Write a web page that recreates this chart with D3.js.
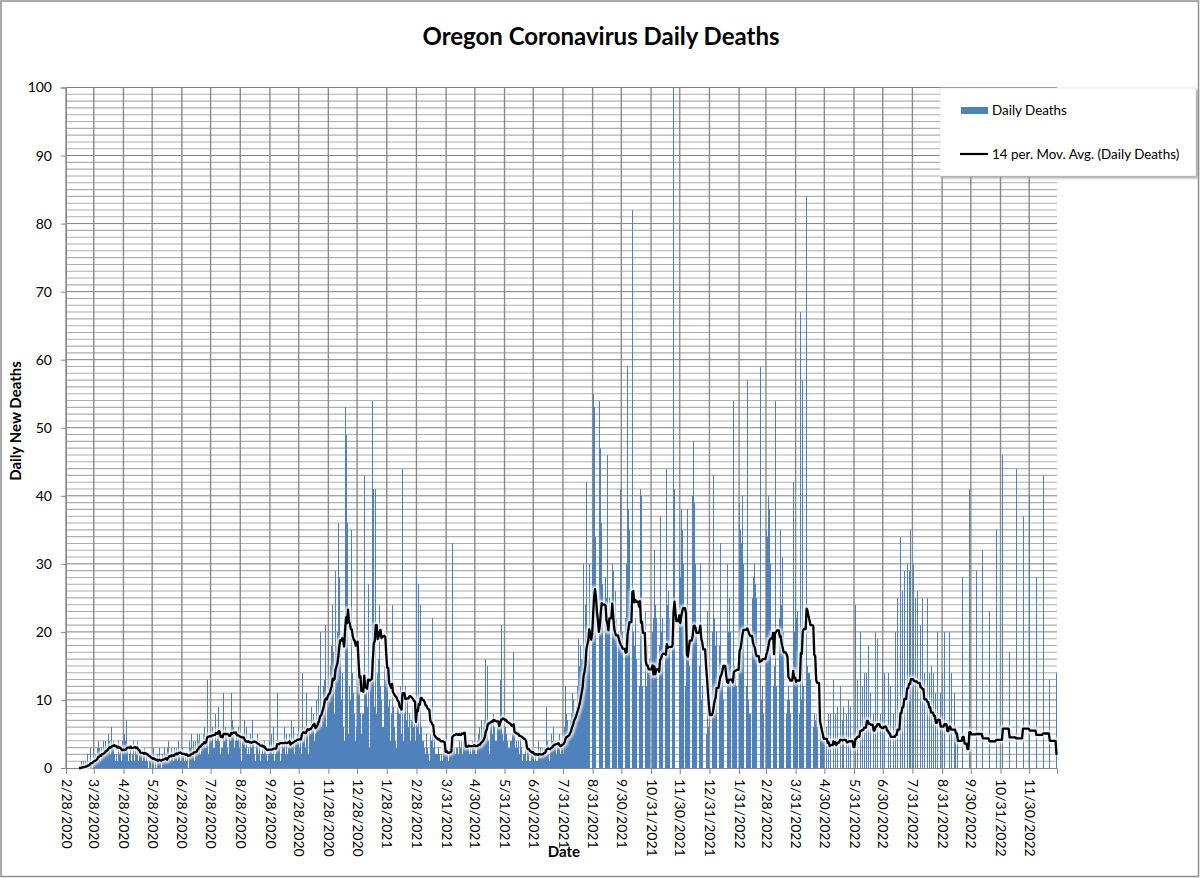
<!DOCTYPE html>
<html>
<head>
<meta charset="utf-8">
<script src="https://cdn.jsdelivr.net/npm/d3@7"></script>
<style>
body { margin: 0; background: #fff; }
text { font-family: Lato, "Liberation Sans", sans-serif; fill: #000; }
</style>
</head>
<body>
<div class="graph"></div>
<script>
// Chart text
var chartTitle = "Oregon Coronavirus Daily Deaths";
var yTitle = "Daily New Deaths";
var xTitle = "Date";
var seriesNames = ["Daily Deaths", "14 per. Mov. Avg. (Daily Deaths)"];

// Date axis labels (one gridline each)
var tickLabels = ["2/28/2020","3/28/2020","4/28/2020","5/28/2020","6/28/2020","7/28/2020",
  "8/28/2020","9/28/2020","10/28/2020","11/28/2020","12/28/2020","1/28/2021","2/28/2021",
  "3/31/2021","4/30/2021","5/31/2021","6/30/2021","7/31/2021","8/31/2021","9/30/2021",
  "10/31/2021","11/30/2021","12/31/2021","1/31/2022","2/28/2022","3/31/2022","4/30/2022",
  "5/31/2022","6/30/2022","7/31/2022","8/31/2022","9/30/2022","10/31/2022","11/30/2022"];
var yTicks = [0,10,20,30,40,50,60,70,80,90,100];

// Daily deaths, first value is 2/28/2020
var startDate = "2/28/2020";
var deaths2020 = [
  0,0,0,0,0,0,0, 0,0,0,0,0,0,0, 0,0,   // 2/28
  1,0,1,0,1,0,2,          // 3/15
  0,1,3,1,0,3,1,          // 3/22
  2,1,3,4,2,3,1,          // 3/29
  3,2,4,2,4,3,3,          // 4/5
  5,4,2,6,3,4,2,          // 4/12
  1,2,1,4,2,3,1,          // 4/19
  2,4,3,5,4,7,3,          // 4/26
  1,2,3,1,2,4,1,          // 5/3
  3,2,4,1,3,2,2,          // 5/10
  1,2,1,3,1,2,1,          // 5/17
  0,1,2,0,1,3,0,          // 5/24
  1,0,2,1,3,1,0,          // 5/31
  2,1,3,1,2,0,3,          // 6/7
  4,2,1,3,2,1,3,          // 6/14
  2,3,1,4,2,1,1,          // 6/21
  3,2,1,2,1,2,0,          // 6/28
  2,4,3,5,2,4,1,          // 7/5
  4,3,5,4,5,2,3,          // 7/12
  4,5,6,3,5,13,2,         // 7/19
  5,4,4,6,5,3,3,          // 7/26
  8,4,5,9,4,2,3,          // 8/2
  3,11,4,6,5,3,2,         // 8/9
  5,4,11,7,6,3,2,         // 8/16
  4,5,4,6,3,2,1,          // 8/23
  5,4,7,3,6,2,3,          // 8/30
  2,5,3,7,4,2,1,          // 9/6
  4,3,5,2,4,1,2,          // 9/13
  3,2,4,3,2,1,2,          // 9/20
  4,3,5,2,6,1,2,          // 9/27
  3,11,4,3,4,1,2,         // 10/4
  4,3,6,2,5,2,3,          // 10/11
  5,4,7,3,6,2,4,          // 10/18
  4,5,6,3,5,2,14,         // 10/25
  8,4,6,3,11,5,2,         // 11/1
  6,5,9,6,8,4,5,          // 11/8
  10,7,12,8,20,6,9,       // 11/15
  12,13,21,8,6,11,9,      // 11/22
  12,15,18,24,17,8,29,    // 11/29
  18,20,36,28,18,10,14,   // 12/6
  6,4,53,49,5,36,5,       // 12/13
  12,10,35,14,11,8,4,     // 12/20
  6,12,15,13,8            // 12/27
];
var deaths2021 = [
  5,8,                    // 1/1
  8,43,11,13,9,27,3,      // 1/3
  5,14,16,54,41,9,41,     // 1/10
  8,14,16,24,12,10,6,     // 1/17
  6,15,13,18,14,9,10,     // 1/24
  4,8,24,7,9,6,4,         // 1/31
  3,9,11,8,12,5,44,       // 2/7
  4,8,12,7,10,6,8,        // 2/14
  4,7,9,6,8,4,2,          // 2/21
  28,6,27,5,24,6,4,       // 2/28
  4,3,2,5,3,2,1,          // 3/7
  5,4,22,3,5,2,2,         // 3/14
  2,1,3,2,1,2,1,          // 3/21
  4,3,2,5,2,1,3,          // 3/28
  2,3,33,4,3,2,3,         // 4/4
  3,2,4,3,2,4,2,          // 4/11
  4,3,5,4,3,4,2,          // 4/18
  3,2,4,3,4,2,2,          // 4/25
  4,5,6,4,7,5,5,          // 5/2
  6,7,16,6,15,4,2,        // 5/9
  6,7,5,8,6,4,4,          // 5/16
  6,7,6,13,21,5,4,        // 5/23
  5,4,6,5,4,3,3,          // 5/30
  4,4,5,17,5,3,4,         // 6/6
  3,4,2,5,3,1,2,          // 6/13
  2,3,1,4,2,3,1,          // 6/20
  1,2,3,2,1,2,1,          // 6/27
  1,4,2,3,2,3,2,          // 7/4
  3,2,9,4,2,1,1,          // 7/11
  3,5,4,6,3,4,2,          // 7/18
  4,3,5,2,3,3,2,          // 7/25
  6,12,8,7,5,5,7,         // 8/1
  8,11,9,10,8,7,9,        // 8/8
  12,19,15,18,16,16,30,   // 8/15
  18,24,42,20,16,30,0,    // 8/22
  0,30,55,53,34,0,0,      // 8/29
  0,0,54,47,36,27,0,      // 9/5
  0,28,25,46,20,25,0,     // 9/12
  0,30,29,22,26,22,0,     // 9/19
  0,20,18,41,17,20,0,     // 9/26
  0,22,30,59,38,35,0,     // 10/3
  0,82,20,18,22,16,0,     // 10/10
  0,12,41,15,40,12,0,     // 10/17
  0,23,12,18,14,16,0,     // 10/24
  0,20,22,32,24,22,0,     // 10/31
  0,18,37,20,22,18,0,     // 11/7
  0,18,44,24,26,22,0,     // 11/14
  0,22,105,41,0,0,0,      // 11/21
  0,30,28,38,35,30,0,     // 11/28
  0,12,18,38,18,15,0,     // 12/5
  0,40,48,39,30,20,0,     // 12/12
  0,15,30,10,12,0,0,      // 12/19
  0,5,23,8,6,0            // 12/26
];
var deaths2022 = [
  0,                      // 1/1
  0,20,43,22,18,20,0,     // 1/2
  0,18,33,12,14,10,0,     // 1/9
  0,0,30,20,25,20,0,      // 1/16
  0,12,54,15,14,12,0,     // 1/23
  0,39,35,33,40,30,0,     // 1/30
  0,12,57,10,8,8,0,       // 2/6
  0,25,28,30,27,25,0,     // 2/13
  0,0,59,10,12,8,0,       // 2/20
  0,35,34,40,38,30,0,     // 2/27
  0,12,15,54,13,12,0,     // 3/6
  0,22,35,24,31,20,0,     // 3/13
  0,8,10,12,10,8,0,       // 3/20
  0,42,20,25,22,23,0,     // 3/27
  0,8,67,10,57,12,0,      // 4/3
  0,84,15,14,14,13,0,     // 4/10
  0,6,8,7,8,6,0,          // 4/17
  0,5,6,4,6,4,0,          // 4/24
  0,6,0,8,0,8,0,          // 5/1
  0,13,0,8,0,9,0,         // 5/8
  0,12,0,7,0,9,0,         // 5/15
  0,8,0,10,0,9,0,         // 5/22
  0,0,0,24,0,13,0,        // 5/29
  0,20,0,12,0,14,0,       // 6/5
  0,14,0,18,0,11,0,       // 6/12
  0,8,0,20,0,19,0,        // 6/19
  0,8,0,16,0,14,0,        // 6/26
  0,0,0,14,0,12,0,        // 7/3
  0,8,0,20,0,25,0,        // 7/10
  0,34,0,26,0,29,0,       // 7/17
  0,30,0,29,0,35,0,       // 7/24
  0,30,0,25,0,26,0,       // 7/31
  0,21,0,25,0,14,0,       // 8/7
  0,25,0,14,0,15,0,       // 8/14
  0,14,0,11,0,20,0,       // 8/21
  0,11,0,14,0,20,0,       // 8/28
  0,0,0,20,0,14,0,        // 9/4
  0,11,0,6,0,5,0,         // 9/11
  0,0,0,28,0,0,0,         // 9/18
  0,0,0,41,0,0,0,         // 9/25
  0,0,0,29,0,0,0,         // 10/2
  0,0,0,32,0,0,0,         // 10/9
  0,0,0,23,0,0,0,         // 10/16
  0,0,0,35,0,0,0,         // 10/23
  0,0,0,46,0,0,0,         // 10/30
  0,0,0,17,0,0,0,         // 11/6
  0,0,0,44,0,0,0,         // 11/13
  0,0,0,37,0,0,0,         // 11/20
  0,0,0,40,0,0,0,         // 11/27
  0,0,0,28,0,0,0,         // 12/4
  0,0,0,43,0,0,0,         // 12/11
  0,0,0,13,0,0,0,         // 12/18
  0,0,0,14                // 12/25
];

// Define margins
var margin = {top: 87.5, right: 143, bottom: 110, left: 66};
var outer_width = 1200;
var outer_height = 878;
var svg_width = outer_width - margin.left - margin.right;
var svg_height = outer_height - margin.top - margin.bottom;
var maPeriod = 14;

var parseDate = d3.timeParse("%m/%d/%Y");
var firstDay = parseDate(startDate);
var dailyDeaths = deaths2020.concat(deaths2021, deaths2022);

var dataset = dailyDeaths.map(function(v, i) {
	return {date: d3.timeDay.offset(firstDay, i), deaths: v};
});

// trailing moving average, like the Excel trendline
var movAvg = [];
dataset.forEach(function(d, i) {
	if (i >= maPeriod - 1) {
		var sum = d3.sum(dailyDeaths.slice(i - maPeriod + 1, i + 1));
		movAvg.push({date: d.date, value: sum / maPeriod});
	}
});

var tickDates = tickLabels.map(function(s) { return parseDate(s); });

xScale = d3.scaleTime()
				.domain([firstDay, d3.timeDay.offset(firstDay, dataset.length)])
				.range([0, svg_width]);

yScale = d3.scaleLinear()
				.domain([0, 100])
				.range([svg_height, 0]);

var dayWidth = svg_width / dataset.length;
var barWidth = 1;

var svg = d3.select(".graph")
			.append("svg")
			.attr("width", outer_width)
			.attr("height", outer_height);

// chart area border
svg.append("rect")
	.attr("x", 1)
	.attr("y", 1)
	.attr("width", outer_width - 2.5)
	.attr("height", outer_height - 2.5)
	.attr("fill", "#fff")
	.attr("stroke", "#8e8e8e")
	.attr("stroke-width", 1.5);

svg.append("text")
	.attr("x", 601)
	.attr("y", 45)
	.attr("text-anchor", "middle")
	.attr("font-size", 24)
	.attr("font-weight", "bold")
	.text(chartTitle);

var plot = svg.append("g")
			.attr("transform", "translate(" + margin.left + "," + margin.top + ")");

// minor horizontal gridlines
var minorValues = d3.range(1, 100).filter(function(v) { return v % 10 != 0; });
plot.append("g")
	.selectAll("line")
	.data(minorValues)
	.enter()
	.append("line")
		.attr("x1", 0)
		.attr("x2", svg_width)
		.attr("y1", function(d) { return yScale(d); })
		.attr("y2", function(d) { return yScale(d); })
		.attr("stroke", "#aeaeae")
		.attr("stroke-width", 1.1);

// major horizontal gridlines
plot.append("g")
	.selectAll("line")
	.data(yTicks.slice(1))
	.enter()
	.append("line")
		.attr("x1", 0)
		.attr("x2", svg_width)
		.attr("y1", function(d) { return yScale(d); })
		.attr("y2", function(d) { return yScale(d); })
		.attr("stroke", "#7f7f7f")
		.attr("stroke-width", 1);

// vertical gridlines on the date ticks
plot.append("g")
	.selectAll("line")
	.data(tickDates)
	.enter()
	.append("line")
		.attr("x1", function(d) { return xScale(d); })
		.attr("x2", function(d) { return xScale(d); })
		.attr("y1", 0)
		.attr("y2", svg_height)
		.attr("stroke", "#8a8a8a")
		.attr("stroke-width", 1.4);

// daily bars, snapped to whole pixels like the original
plot.append("g")
	.attr("shape-rendering", "crispEdges")
	.selectAll("rect")
	.data(dataset.filter(function(d) { return d.deaths > 0; }))
	.enter()
	.append("rect")
		.attr("x", function(d) { return Math.round(xScale(d.date) + dayWidth / 2 - barWidth / 2); })
		.attr("y", function(d) { return yScale(Math.min(d.deaths, 100)); })
		.attr("width", barWidth)
		.attr("height", function(d) { return svg_height - yScale(Math.min(d.deaths, 100)); })
		.attr("fill", "#4f81bd");

// axes
var yAxis = d3.axisLeft()
				.scale(yScale)
				.tickValues(yTicks)
				.tickSize(5)
				.tickPadding(9);

var xAxis = d3.axisBottom()
				.scale(xScale)
				.tickValues(tickDates)
				.tickSize(6)
				.tickFormat(function(d, i) { return tickLabels[i]; });

var gy = plot.append("g").call(yAxis);
gy.selectAll("text").attr("font-size", 14).attr("fill", "#000").style("font-family", "Lato");
gy.selectAll("line, path").attr("stroke", "#868686");

var gx = plot.append("g")
			.attr("transform", "translate(0," + svg_height + ")")
			.call(xAxis);
gx.selectAll("line, path").attr("stroke", "#868686");
gx.selectAll("text")
	.attr("font-size", 14)
	.attr("fill", "#000")
	.style("font-family", "Lato")
	.attr("transform", "rotate(90)")
	.attr("x", 11)
	.attr("y", 0)
	.attr("dy", "0.35em")
	.attr("text-anchor", "start");

// moving average trendline with a soft glow
var line = d3.line()
			.x(function(d) { return xScale(d.date) + dayWidth / 2; })
			.y(function(d) { return yScale(d.value); });

var defs = svg.append("defs");
defs.append("filter")
	.attr("id", "glow")
	.append("feGaussianBlur")
	.attr("stdDeviation", 1.3);

plot.append("path")
	.datum(movAvg)
	.attr("d", line)
	.attr("fill", "none")
	.attr("stroke", "#eef3fa")
	.attr("stroke-opacity", 0.85)
	.attr("stroke-width", 7)
	.attr("stroke-linejoin", "round")
	.attr("filter", "url(#glow)");

plot.append("path")
	.datum(movAvg)
	.attr("d", line)
	.attr("fill", "none")
	.attr("stroke", "#000")
	.attr("stroke-width", 2.3)
	.attr("stroke-linejoin", "round");

// axis titles
svg.append("text")
	.attr("transform", "translate(21,421) rotate(-90)")
	.attr("text-anchor", "middle")
	.attr("font-size", 15)
	.attr("font-weight", "bold")
	.text(yTitle);

svg.append("text")
	.attr("x", 564)
	.attr("y", 857)
	.attr("text-anchor", "middle")
	.attr("font-size", 15)
	.attr("font-weight", "bold")
	.text(xTitle);

// legend
defs.append("filter")
	.attr("id", "shadow")
	.attr("x", "-10%").attr("y", "-10%").attr("width", "130%").attr("height", "140%")
	.append("feGaussianBlur")
	.attr("stdDeviation", 1.5);

var legend = svg.append("g").attr("transform", "translate(940,88)");
legend.append("rect")
	.attr("x", 2)
	.attr("y", 2)
	.attr("width", 256)
	.attr("height", 88)
	.attr("fill", "#9a9a9a")
	.attr("filter", "url(#shadow)");
legend.append("rect")
	.attr("width", 256)
	.attr("height", 88)
	.attr("fill", "#fff")
	.attr("stroke", "#d9d9d9")
	.attr("stroke-width", 0.5);

legend.append("rect")
	.attr("x", 21)
	.attr("y", 19)
	.attr("width", 27)
	.attr("height", 7)
	.attr("fill", "#4f81bd");
legend.append("line")
	.attr("x1", 20)
	.attr("x2", 48)
	.attr("y1", 66)
	.attr("y2", 66)
	.attr("stroke", "#000")
	.attr("stroke-width", 2.2);

legend.selectAll(".legend-text")
	.data(seriesNames)
	.enter()
	.append("text")
		.attr("class", "legend-text")
		.attr("x", 52)
		.attr("y", function(d, i) { return i == 0 ? 27 : 71; })
		.attr("font-size", 13.4)
		.text(function(d) { return d; });
</script>
</body>
</html>
